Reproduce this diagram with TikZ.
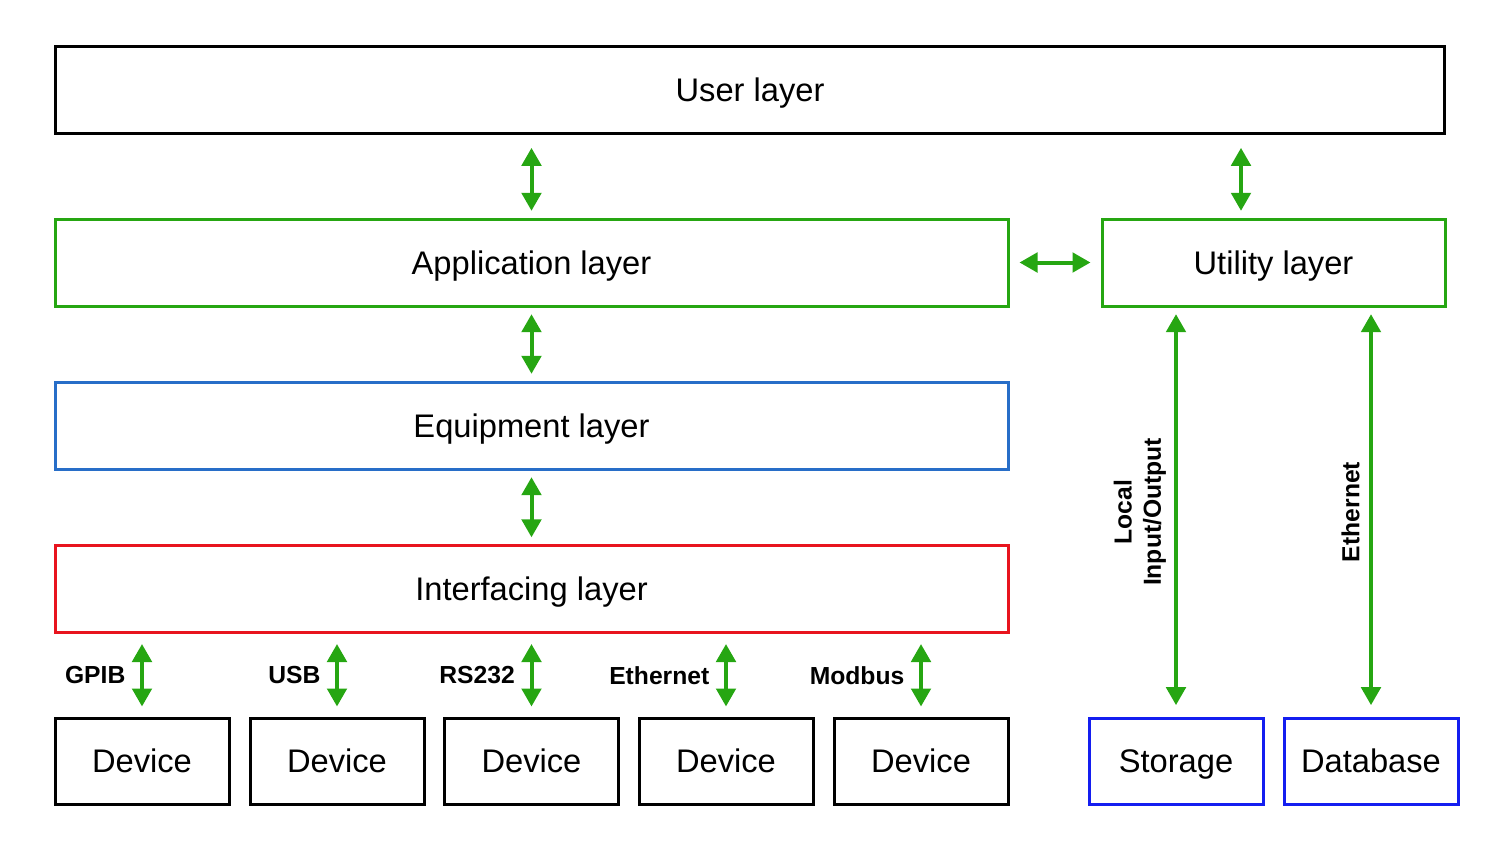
\documentclass[tikz,border=0pt]{standalone}
\usepackage{fontspec}
\setmainfont{Liberation Sans}
\usetikzlibrary{arrows.meta}

\definecolor{lgreen}{RGB}{38,166,18}
\definecolor{lblue}{RGB}{40,110,200}
\definecolor{lred}{RGB}{232,20,30}
\definecolor{sblue}{RGB}{20,30,240}

\tikzset{every picture/.style={line width=0.75pt}}
\tikzset{
  layer/.style={draw, line width=2.25pt, minimum height=65.25pt, text height=17.5pt, text depth=0pt, font=\fontsize{24.5}{29}\selectfont},
  devbox/.style={layer, minimum width=130.5pt, minimum height=64.5pt},
  link/.style={draw=lgreen, line width=3pt, {Triangle[width=14.5pt,length=13.5pt]}-{Triangle[width=14.5pt,length=13.5pt]}, shorten <=5pt, shorten >=5pt},
  lbl/.style={font=\fontsize{18.5}{22}\selectfont\bfseries, inner sep=0pt}
}

\begin{document}
\begin{tikzpicture}[x=0.75pt,y=0.75pt,yscale=-1,xscale=1]
\useasboundingbox (0,0) rectangle (1500,847); %set diagram size 1500 x 847

%Shape: Rectangle [id:user]
\node [layer, draw=black, minimum width=1041.75pt] (user) at (750,89.5) {User layer};
%Shape: Rectangle [id:app]
\node [layer, draw=lgreen, minimum width=714.75pt] (app) at (531.5,262.5) {Application layer};
%Shape: Rectangle [id:util]
\node [layer, draw=lgreen, minimum width=257.25pt] (util) at (1273.5,262.5) {Utility layer};
%Shape: Rectangle [id:equip]
\node [layer, draw=lblue, minimum width=714.75pt] (equip) at (531.5,425.5) {Equipment layer};
%Shape: Rectangle [id:iface]
\node [layer, draw=lred, minimum width=714.75pt] (iface) at (531.5,589) {Interfacing layer};

%Shape: Rectangle [id:devices]
\node [devbox, draw=black] (dev1) at (142,761) {Device};
\node [devbox, draw=black] (dev2) at (337,761) {Device};
\node [devbox, draw=black] (dev3) at (531.5,761) {Device};
\node [devbox, draw=black] (dev4) at (726,761) {Device};
\node [devbox, draw=black] (dev5) at (921,761) {Device};
%Shape: Rectangle [id:storage]
\node [devbox, draw=sblue] (store) at (1176,761) {Storage};
\node [devbox, draw=sblue] (dbase) at (1371,761) {Database};

\coordinate (ut) at (1241,0);

%Straight Lines [id:layers]
\draw [link, shorten <=10pt] (user.south -| app) -- (app.north);
\draw [link, shorten <=10pt] (user.south -| ut) -- (util.north -| ut);
\draw [link, shorten <=7.5pt, shorten >=7.5pt] (app.east) -- (util.west);
\draw [link] (app.south) -- (equip.north);
\draw [link] (equip.south) -- (iface.north);

%Straight Lines [id:buses]
\draw [link, shorten <=7.5pt, shorten >=7.5pt] (iface.south -| dev1) -- (dev1.north) node [lbl, midway, left=11pt] {GPIB};
\draw [link, shorten <=7.5pt, shorten >=7.5pt] (iface.south -| dev2) -- (dev2.north) node [lbl, midway, left=11pt] {USB};
\draw [link, shorten <=7.5pt, shorten >=7.5pt] (iface.south -| dev3) -- (dev3.north) node [lbl, midway, left=11pt] {RS232};
\draw [link, shorten <=7.5pt, shorten >=7.5pt] (iface.south -| dev4) -- (dev4.north) node [lbl, midway, left=11pt] {Ethernet};
\draw [link, shorten <=7.5pt, shorten >=7.5pt] (iface.south -| dev5) -- (dev5.north) node [lbl, midway, left=11pt] {Modbus};

%Straight Lines [id:storage links]
\draw [link, shorten >=8.5pt] (util.south -| store) -- (store.north) node [lbl, midway, rotate=90, anchor=south, inner sep=6pt, align=center] {Local\\Input/Output};
\draw [link, shorten >=8.5pt] (util.south -| dbase) -- (dbase.north) node [lbl, midway, rotate=90, anchor=south, inner sep=7pt] {Ethernet};

\end{tikzpicture}
\end{document}
